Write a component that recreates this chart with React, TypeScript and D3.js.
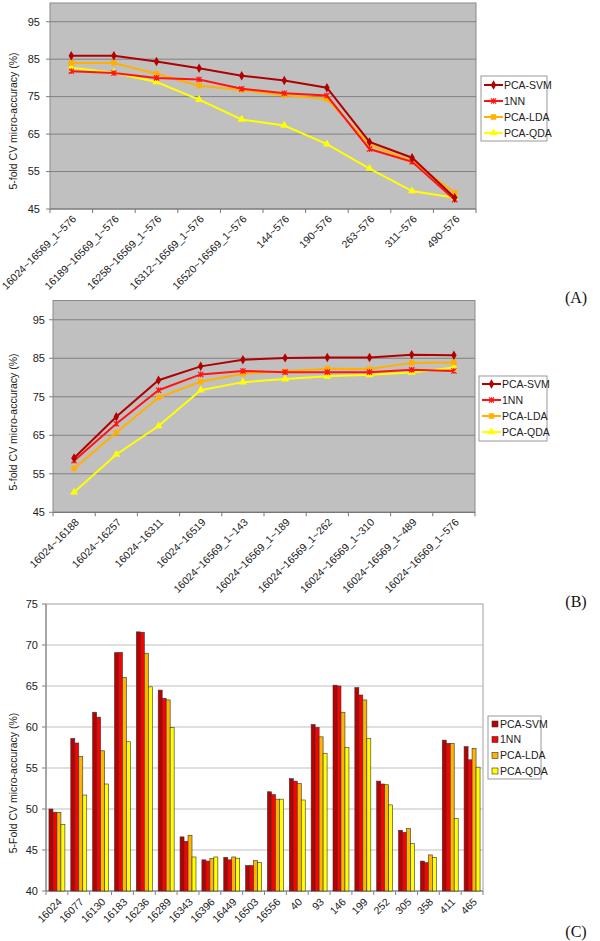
import React from 'react';
import * as d3 from 'd3';

// ---------- DATA ----------
const seriesNames = ['PCA-SVM', '1NN', 'PCA-LDA', 'PCA-QDA'];

const catsA = [
  '16024~16569_1~576', '16189~16569_1~576', '16258~16569_1~576', '16312~16569_1~576',
  '16520~16569_1~576', '144~576', '190~576', '263~576', '311~576', '490~576',
];
const svmA = [85.9, 85.9, 84.4, 82.6, 80.6, 79.3, 77.4, 62.9, 58.7, 48.0];
const nnA = [81.8, 81.3, 80.0, 79.6, 77.1, 75.9, 75.3, 61.0, 57.6, 47.5];
const ldaA = [84.0, 84.0, 81.1, 77.9, 76.8, 75.4, 74.4, 62.2, 57.8, 49.3];
const qdaA = [82.7, 81.4, 78.9, 74.2, 68.9, 67.3, 62.3, 55.8, 49.8, 48.0];

const catsB = [
  '16024~16188', '16024~16257', '16024~16311', '16024~16519', '16024~16569_1~143',
  '16024~16569_1~189', '16024~16569_1~262', '16024~16569_1~310', '16024~16569_1~489',
  '16024~16569_1~576',
];
const svmB = [59.1, 69.8, 79.3, 82.9, 84.6, 85.1, 85.2, 85.2, 85.9, 85.8];
const nnB = [58.4, 68.0, 76.7, 80.8, 81.7, 81.4, 81.4, 81.4, 82.0, 81.7];
const ldaB = [56.4, 65.7, 74.8, 78.9, 81.0, 81.6, 82.3, 82.2, 83.8, 83.9];
const qdaB = [50.2, 60.0, 67.4, 76.7, 78.8, 79.6, 80.3, 80.7, 81.3, 82.6];

const catsC = [
  '16024', '16077', '16130', '16183', '16236', '16289', '16343', '16396', '16449', '16503',
  '16556', '40', '93', '146', '199', '252', '305', '358', '411', '465',
];
const svmC = [50.0, 58.6, 61.8, 69.06, 71.6, 64.5, 46.6, 43.8, 44.1, 43.1, 52.1, 53.7, 60.3, 65.1, 64.8, 53.4, 47.4, 43.65, 58.4, 57.6];
const nnC = [49.6, 58.05, 61.2, 69.1, 71.55, 63.5, 46.05, 43.65, 43.8, 43.1, 51.75, 53.4, 59.95, 65.0, 63.9, 53.05, 47.15, 43.45, 58.0, 56.0];
const ldaC = [49.6, 56.4, 57.1, 66.05, 69.0, 63.3, 46.8, 43.98, 44.15, 43.7, 51.2, 53.1, 58.8, 61.8, 63.3, 52.96, 47.6, 44.4, 58.0, 57.4];
const qdaC = [48.1, 51.7, 53.05, 58.2, 64.9, 59.95, 44.15, 44.15, 44.0, 43.5, 51.2, 51.1, 56.8, 57.5, 58.6, 50.5, 45.8, 44.1, 48.85, 55.1];

const ticksAB = [45, 55, 65, 75, 85, 95];
const ticksC = [40, 45, 50, 55, 60, 65, 70, 75];

// ---------- STYLE ----------
const lineColors = ['#b00000', '#ff1414', '#ffb000', '#ffff00'];
const barColors = ['#bb0000', '#ff0000', '#ffb400', '#ffff00'];
const FONT = '"Liberation Sans", Arial, sans-serif';
const SERIF = '"Liberation Serif", "DejaVu Serif", serif';

function markerPath(kind: number): string {
  if (kind === 0) return d3.symbol(d3.symbolDiamond, 26)() as string;
  if (kind === 2) return d3.symbol(d3.symbolSquare, 30)() as string;
  if (kind === 3) return d3.symbol(d3.symbolTriangle, 28)() as string;
  const r = 2.6;
  return `M${-r},${-r}L${r},${r}M${-r},${r}L${r},${-r}M0,${-r * 1.1}L0,${r * 1.1}`;
}

function Marker({ kind, x, y, color }: { kind: number; x: number; y: number; color: string }) {
  const d = markerPath(kind);
  if (kind === 1) {
    return <path d={d} transform={`translate(${x},${y})`} fill="none" stroke={color} strokeWidth={1.2} />;
  }
  return <path d={d} transform={`translate(${x},${y})`} fill={color} stroke="none" />;
}

type LineProps = {
  cats: string[];
  series: number[][];
  x0: number; x1: number; y0: number; y1: number;
  titleCY: number;
  tickX: number;
  legend: { x: number; y: number; w: number; h: number; rows: number[] };
};

function LinePanel(p: LineProps) {
  const x = d3.scaleBand<string>().domain(p.cats).range([p.x0, p.x1]);
  const y = d3.scaleLinear().domain([45, 100]).range([p.y1, p.y0]);
  const bw = x.bandwidth();
  const line = d3.line<number>()
    .x((_, i) => (x(p.cats[i]) as number) + bw / 2)
    .y((v) => y(v));
  return (
    <g>
      <rect x={p.x0} y={p.y0} width={p.x1 - p.x0} height={p.y1 - p.y0} fill="#c0c0c0" stroke="#8a8a8a" strokeWidth={1} />
      {ticksAB.map((t) => (
        <g key={t}>
          {t > 45 && <line x1={p.x0} x2={p.x1} y1={y(t)} y2={y(t)} stroke="#808080" strokeWidth={1} />}
          <line x1={p.x0 - 4} x2={p.x0} y1={y(t)} y2={y(t)} stroke="#808080" strokeWidth={1} />
          <text x={p.tickX} y={y(t)} dy="0.35em" textAnchor="end" fontFamily={FONT} fontSize={11} fill="#222">{t}</text>
        </g>
      ))}
      <line x1={p.x0} x2={p.x1} y1={p.y1} y2={p.y1} stroke="#777" strokeWidth={1.2} />
      {d3.range(p.cats.length + 1).map((i) => (
        <line key={i} x1={p.x0 + i * bw} x2={p.x0 + i * bw} y1={p.y1} y2={p.y1 + 4} stroke="#777" strokeWidth={1} />
      ))}
      {p.cats.map((c) => (
        <text key={c} transform={`translate(${(x(c) as number) + bw / 2 + 3},${p.y1 + 8}) rotate(-45)`}
          textAnchor="end" dy="0.35em" fontFamily={FONT} fontSize={10.5} fill="#222">{c}</text>
      ))}
      <text transform={`translate(13,${p.titleCY}) rotate(-90)`} textAnchor="middle" dy="0.35em"
        fontFamily={FONT} fontSize={10.5} fill="#222">5-fold CV micro-accuracy (%)</text>
      {[3, 2, 1, 0].map((s) => (
        <g key={s}>
          <path d={line(p.series[s]) as string} fill="none" stroke={lineColors[s]} strokeWidth={2} />
          {p.series[s].map((v, i) => (
            <Marker key={i} kind={s} x={(x(p.cats[i]) as number) + bw / 2} y={y(v)} color={lineColors[s]} />
          ))}
        </g>
      ))}
      <rect x={p.legend.x} y={p.legend.y} width={p.legend.w} height={p.legend.h} fill="#fff" stroke="#999" strokeWidth={1} />
      {seriesNames.map((n, s) => {
        const ly = p.legend.rows[s];
        const lx = p.legend.x + 3;
        return (
          <g key={n}>
            <line x1={lx} x2={lx + 19} y1={ly} y2={ly} stroke={lineColors[s]} strokeWidth={2} />
            <Marker kind={s} x={lx + 9.5} y={ly} color={lineColors[s]} />
            <text x={lx + 20} y={ly} dy="0.35em" fontFamily={FONT} fontSize={10.5} fill="#222">{n}</text>
          </g>
        );
      })}
    </g>
  );
}

function BarPanel() {
  const x0 = 46, x1 = 483, y0 = 604, y1 = 891;
  const x = d3.scaleBand<string>().domain(catsC).range([x0, x1]).paddingInner(0.27).paddingOuter(0.135);
  const inner = d3.scaleBand<string>().domain(seriesNames).range([0, x.bandwidth()]);
  const y = d3.scaleLinear().domain([40, 75]).range([y1, y0]);
  const series = [svmC, nnC, ldaC, qdaC];
  const step = x.step();
  const legend = { x: 488, y: 716, w: 53, h: 63, rows: [724, 739.5, 755.5, 771] };
  return (
    <g>
      <rect x={x0} y={y0} width={x1 - x0} height={y1 - y0} fill="#fff" stroke="#a0a0a0" strokeWidth={1} />
      {ticksC.map((t) => (
        <g key={t}>
          {t > 40 && t < 75 && <line x1={x0} x2={x1} y1={y(t)} y2={y(t)} stroke="#c0c0c0" strokeWidth={1.2} />}
          <line x1={x0 - 4} x2={x0} y1={y(t)} y2={y(t)} stroke="#808080" strokeWidth={1} />
          <text x={38} y={y(t)} dy="0.35em" textAnchor="end" fontFamily={FONT} fontSize={11} fill="#222">{t}</text>
        </g>
      ))}
      <line x1={x0} x2={x0} y1={y0} y2={y1} stroke="#808080" strokeWidth={1} />
      <line x1={x0} x2={x1} y1={y1} y2={y1} stroke="#808080" strokeWidth={1.2} />
      {d3.range(catsC.length + 1).map((i) => (
        <line key={i} x1={x0 + i * step} x2={x0 + i * step} y1={y1} y2={y1 + 4} stroke="#808080" strokeWidth={1} />
      ))}
      {catsC.map((c, ci) => (
        <g key={c}>
          {series.map((arr, s) => (
            <rect key={s} x={(x(c) as number) + (inner(seriesNames[s]) as number)} y={y(arr[ci])}
              width={inner.bandwidth()} height={y1 - y(arr[ci])} fill={barColors[s]} stroke="#333" strokeWidth={0.6} />
          ))}
          <text transform={`translate(${(x(c) as number) + x.bandwidth() / 2 + 3},${y1 + 9}) rotate(-45)`}
            textAnchor="end" dy="0.35em" fontFamily={FONT} fontSize={10.5} fill="#222">{c}</text>
        </g>
      ))}
      <text transform={`translate(13,783) rotate(-90)`} textAnchor="middle" dy="0.35em"
        fontFamily={FONT} fontSize={10.5} fill="#222">5-Fold CV micro-accuracy (%)</text>
      <rect x={legend.x} y={legend.y} width={legend.w} height={legend.h} fill="#fff" stroke="#999" strokeWidth={1} />
      {seriesNames.map((n, s) => (
        <g key={n}>
          <rect x={legend.x + 4} y={legend.rows[s] - 3} width={6} height={6} fill={barColors[s]} stroke="#333" strokeWidth={0.6} />
          <text x={legend.x + 12} y={legend.rows[s]} dy="0.35em" fontFamily={FONT} fontSize={10.5} fill="#222">{n}</text>
        </g>
      ))}
    </g>
  );
}

export default function App() {
  return (
    <svg width={600} height={941} style={{ position: 'absolute', left: 0, top: 0, background: '#fff' }}>
      <rect width={600} height={941} fill="#fff" />
      <LinePanel cats={catsA} series={[svmA, nnA, ldaA, qdaA]} x0={50} x1={476} y0={3} y1={209}
        titleCY={121} tickX={40}
        legend={{ x: 481, y: 76, w: 66, h: 65, rows: [85, 101, 117, 133] }} />
      <LinePanel cats={catsB} series={[svmB, nnB, ldaB, qdaB]} x0={53} x1={475} y0={300.5} y1={512.3}
        titleCY={422} tickX={45}
        legend={{ x: 479, y: 376, w: 68, h: 65, rows: [384, 400, 416, 432] }} />
      <BarPanel />
      <text x={576} y={297} dy="0.35em" textAnchor="middle" fontFamily={SERIF} fontSize={16} fill="#111">(A)</text>
      <text x={576} y={601} dy="0.35em" textAnchor="middle" fontFamily={SERIF} fontSize={16} fill="#111">(B)</text>
      <text x={576} y={931} dy="0.35em" textAnchor="middle" fontFamily={SERIF} fontSize={16} fill="#111">(C)</text>
    </svg>
  );
}
